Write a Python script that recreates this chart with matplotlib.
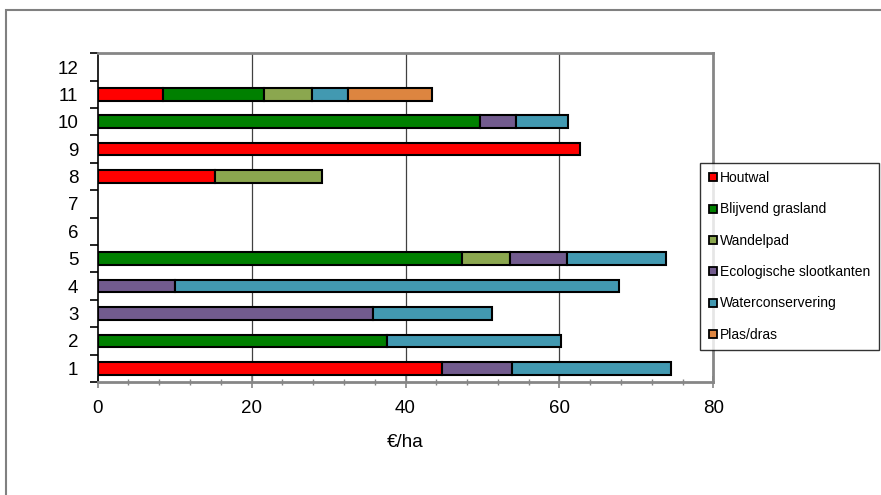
import numpy as np
import matplotlib
matplotlib.use("Agg")
import matplotlib.pyplot as plt
from matplotlib.lines import Line2D
from matplotlib.patches import Rectangle

plt.rcParams['font.family'] = ['Liberation Sans', 'DejaVu Sans']

# categorieen 1..12 (van onder naar boven)
categories = np.arange(1, 13)

series_names = ["Houtwal", "Blijvend grasland", "Wandelpad",
                "Ecologische slootkanten", "Waterconservering", "Plas/dras"]
series_colors = ["#FF0000", "#008000", "#8BA74F", "#725B8E", "#4299B1", "#DD8540"]

# waarden in euro/ha per categorie
houtwal      = [44.7, 0, 0, 0, 0, 0, 0, 15.3, 62.7, 0, 8.5, 0]
grasland     = [0, 37.6, 0, 0, 47.3, 0, 0, 0, 0, 49.7, 13.1, 0]
wandelpad    = [0, 0, 0, 0, 6.3, 0, 0, 13.8, 0, 0, 6.2, 0]
slootkanten  = [9.1, 0, 35.8, 10.0, 7.4, 0, 0, 0, 0, 4.6, 0, 0]
waterconserv = [20.7, 22.6, 15.4, 57.8, 12.8, 0, 0, 0, 0, 6.8, 4.7, 0]
plasdras     = [0, 0, 0, 0, 0, 0, 0, 0, 0, 0, 11.0, 0]

series = [houtwal, grasland, wandelpad, slootkanten, waterconserv, plasdras]

fig = plt.figure(figsize=(8.81, 4.95), dpi=100)
ax = fig.add_axes([0.1109, 0.2283, 0.6988, 0.6640])

left = np.zeros(len(categories))
for vals, col in zip(series, series_colors):
    vals = np.array(vals, dtype=float)
    m = vals > 0
    ax.barh(categories[m], vals[m], left=left[m], height=0.46, color=col,
            edgecolor='black', linewidth=1.5, zorder=3)
    left += vals

ax.set_xlim(0, 80)
ax.set_ylim(0.5, 12.5)

# gridlijnen
for gx in [20, 40, 60]:
    ax.axvline(gx, color='#404040', lw=0.9, zorder=1)

ax.set_xticks([0, 20, 40, 60, 80])
ax.set_xticks(np.arange(0, 81, 4), minor=True)
ax.tick_params(axis='x', which='major', direction='inout', length=8, width=1.2,
               color='#868686', labelsize=13.5, pad=9)
ax.tick_params(axis='x', which='minor', direction='inout', length=5, width=1,
               color='#868686')

ax.set_yticks(np.arange(0.5, 12.6, 1))
ax.set_yticklabels([])
ax.set_yticks(categories, minor=True)
ax.set_yticklabels([str(c) for c in categories], minor=True)
ax.tick_params(axis='y', which='major', direction='out', length=6, width=1.2, color='black')
ax.tick_params(axis='y', which='minor', length=0, labelsize=13.5, pad=14)

for s in ['top', 'right', 'bottom']:
    ax.spines[s].set_color('#868686')
    ax.spines[s].set_linewidth(2)
ax.spines['left'].set_color('black')
ax.spines['left'].set_linewidth(1.2)

ax.set_xlabel("€/ha", fontsize=13.5, labelpad=12)

handles = [Line2D([], [], marker='s', linestyle='none', markersize=6,
                  markerfacecolor=c, markeredgecolor='black', markeredgewidth=1.3)
           for c in series_colors]
leg = fig.legend(handles, series_names, loc='upper left',
                 bbox_to_anchor=(700 / 881, 1 - 162.7 / 495), fontsize=10,
                 frameon=True, fancybox=False, borderaxespad=0,
                 labelspacing=1.25, handlelength=0.7, handletextpad=0.15,
                 borderpad=0.6)
leg.get_frame().set_edgecolor('black')
leg.get_frame().set_linewidth(1)

# buitenkader
fig.patches.append(Rectangle((6 / 881, -0.1), 1.2, 1.1 - 10 / 495,
                             transform=fig.transFigure, fill=False,
                             edgecolor='#808080', lw=1.5))

fig.savefig("out.png", dpi=100)
